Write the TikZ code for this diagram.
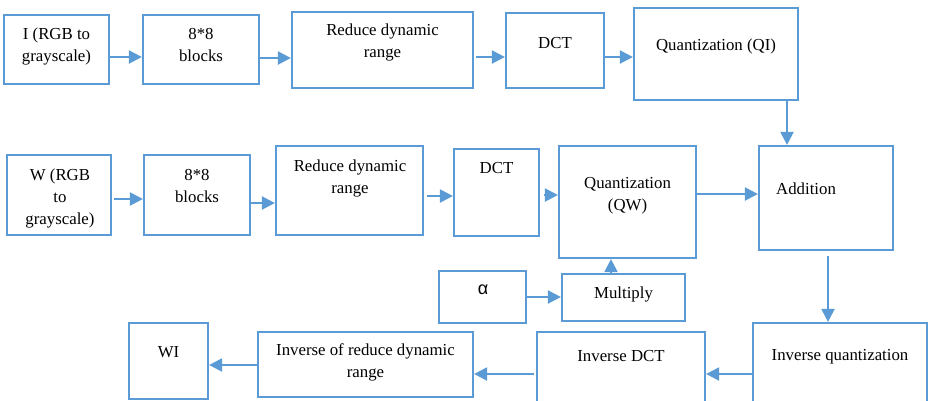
\documentclass[tikz,border=0pt]{standalone}
\usepackage{fontspec}
\setmainfont{Liberation Serif}
\newfontfamily\symfont{Liberation Sans}
\usetikzlibrary{arrows.meta}
\definecolor{boxblue}{HTML}{5B9BD5}
\tikzset{
  box/.style={draw=boxblue, line width=2.2pt, fill=white, inner sep=0pt},
  lbl/.style={inner sep=0pt, align=center, anchor=north, text=black,
              font=\fontsize{16.8}{22}\selectfont},
  arr/.style={draw=boxblue, line width=2.2pt, -{Triangle[length=13pt,width=13pt]}},
}
% \blk{name}{x1}{y1}{x2}{y2}: a frame given by two corners (y grows downwards)
\newcommand\blk[5]{%
  \node[box, minimum width={(#4)-(#2)}, minimum height={(#5)-(#3)}]
    (#1) at ({((#2)+(#4))/2},{((#3)+(#5))/2}) {};}
\begin{document}
\begin{tikzpicture}[x=1pt, y=-1pt]
\useasboundingbox (0,0) rectangle (928,400);
\clip (0,0) rectangle (928,400);

% embedding chain for the cover image
\blk{b1}{4}{15}{109}{84}
\blk{b2}{143}{15}{259}{84}
\blk{b3}{292}{12}{473}{88}
\blk{b4}{506}{13}{604}{88}
\blk{b5}{634}{8}{798}{100}
\node[lbl] (b1t) at (56.5,28) {I (RGB to\\grayscale)};
\node[lbl] (b2t) at (201,28) {8*8\\blocks};
\node[lbl] (b3t) at (382.5,24) {Reduce dynamic\\range};
\node[lbl] (b4t) at (555,37) {DCT};
\node[lbl] (b5t) at (716,39) {Quantization (QI)};

% chain for the watermark
\blk{c1}{7}{155}{111}{235}
\blk{c2}{144}{155}{250}{235}
\blk{c3}{276}{146}{423}{235}
\blk{c4}{454}{149}{539}{236}
\blk{c5}{559}{146}{696}{258}
\blk{c6}{759}{146}{893}{250}
\blk{al}{439}{271}{526}{323}
\blk{mu}{562}{274}{685}{321}
\node[lbl] (c1t) at (60,169) {W (RGB\\to\\grayscale)};
\node[lbl] (c2t) at (197,169) {8*8\\blocks};
\node[lbl] (c3t) at (350,160) {Reduce dynamic\\range};
\node[lbl] (c4t) at (496.5,162) {DCT};
\node[lbl] (c5t) at (627.5,177) {Quantization\\(QW)};
\node[lbl, anchor=north west] (c6t) at (776,183) {Addition};
\node[lbl, font=\symfont\fontsize{18}{22}\selectfont] (alt) at (483,285) {α};
\node[lbl] (mut) at (623.5,287) {Multiply};

% reconstruction chain
\blk{d1}{753}{323}{927}{430}
\blk{d2}{537}{332}{705}{430}
\blk{d3}{258}{332}{473}{397}
\blk{d4}{129}{323}{208}{399}
\node[lbl] (d1t) at (840,349) {Inverse quantization};
\node[lbl] (d2t) at (621,350) {Inverse DCT};
\node[lbl] (d3t) at (365.5,343) {Inverse of reduce dynamic\\range};
\node[lbl] (d4t) at (168.5,346) {WI};

% connectors
\draw[arr] (b1.east |- 0,57) -- (b2.west |- 0,57);
\draw[arr] (b2.east |- 0,58) -- (b3.west |- 0,58);
\draw[arr] ([xshift=2pt]b3.east |- 0,57) -- (b4.west |- 0,57);
\draw[arr] (b4.east |- 0,57) -- (b5.west |- 0,57);
\draw[arr] (b5.south -| 787,0) -- (c6.north -| 787,0);

\draw[arr] ([xshift=2pt]c1.east |- 0,199) -- (c2.west |- 0,199);
\draw[arr] (c2.east |- 0,203) -- (c3.west |- 0,203);
\draw[arr] ([xshift=3pt]c3.east |- 0,196) -- (c4.west |- 0,196);
\draw[arr] ([xshift=4pt]c4.east |- 0,195) -- (c5.west |- 0,195);
\draw[arr] (c5.east |- 0,194) -- (c6.west |- 0,194);
\draw[arr] (al.east |- 0,297) -- (mu.west |- 0,297);
\draw[arr] (mu.north -| 611,0) -- (c5.south -| 611,0);
\draw[arr] ([yshift=-5pt]c6.south -| 828,0) -- (d1.north -| 828,0);

\draw[arr] (d1.west |- 0,374) -- (d2.east |- 0,374);
\draw[arr] ([xshift=-2pt]d2.west |- 0,374) -- (d3.east |- 0,374);
\draw[arr] (d3.west |- 0,365) -- (d4.east |- 0,365);
\end{tikzpicture}
\end{document}
